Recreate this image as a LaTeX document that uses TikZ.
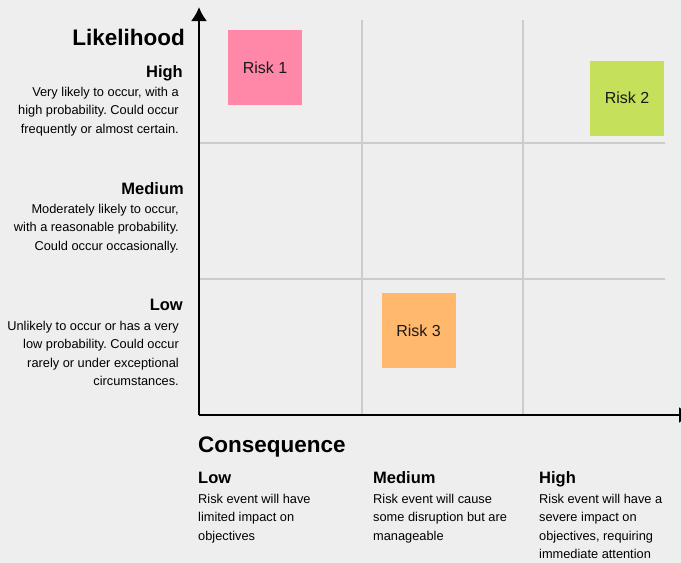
\documentclass[tikz,border=0pt]{standalone}
\usepackage{fontspec}
\setmainfont{Liberation Sans}
\usetikzlibrary{arrows.meta}
\frenchspacing
\begin{document}
\begin{tikzpicture}[x=1pt,y=-1pt,
  axis/.style={line width=2pt,-{Latex[length=14pt,width=16pt]}},
  gridline/.style={line width=1.4pt,draw=gridgrey},
  axistitle/.style={inner sep=0pt,font=\fontsize{22.5}{26}\selectfont\bfseries},
  level/.style={inner sep=0pt,font=\fontsize{16.5}{19}\selectfont\bfseries},
  desc/.style={inner sep=0pt,font=\fontsize{12.8}{18.5}\selectfont},
  riskbox/.style={minimum width=74pt,minimum height=75pt,inner sep=0pt,
    font=\fontsize{16}{19}\selectfont,text=black!90},
]
\definecolor{bg}{HTML}{EEEEEE}
\definecolor{gridgrey}{HTML}{CCCCCC}
\definecolor{riskpink}{HTML}{FF88A8}
\definecolor{riskgreen}{HTML}{C5E05A}
\definecolor{riskorange}{HTML}{FFB86C}
\useasboundingbox (0,0) rectangle (681,563);
\clip (0,0) rectangle (681,563);
\fill[bg] (0,0) rectangle (681,563);

% grid of the matrix
\coordinate (O) at (199,415);
\coordinate (ytip) at (199,7);
\coordinate (xtip) at (693,415);
\coordinate (v1t) at (362,20);  \coordinate (v1b) at (362,415);
\coordinate (v2t) at (523,20);  \coordinate (v2b) at (523,415);
\coordinate (h1l) at (199,143); \coordinate (h1r) at (665,143);
\coordinate (h2l) at (199,279); \coordinate (h2r) at (665,279);
\draw[gridline] (v1t) -- (v1b);
\draw[gridline] (v2t) -- (v2b);
\draw[gridline] (h1l) -- (h1r);
\draw[gridline] (h2l) -- (h2r);

% axes
\draw[axis] (O) -- (ytip);
\draw[axis] (O) -- (xtip);

% risks
\node[riskbox,fill=riskpink]   (risk1) at (265,67.5)  {Risk 1};
\node[riskbox,fill=riskgreen]  (risk2) at (627,98)    {Risk 2};
\node[riskbox,fill=riskorange] (risk3) at (418.5,330.5) {Risk 3};

% likelihood scale (multi-line texts are placed by the baseline of their last line)
\node[axistitle,anchor=base east] (likelihood) at (185,45) {Likelihood};
\node[level,anchor=base east] (lhigh) at (183,77) {High};
\node[desc,align=right,anchor=base east] (lhighd) at (179,133)
  {Very likely to occur, with a\\high probability. Could occur\\frequently or almost certain.};
\node[level,anchor=base east] (lmed) at (184,194) {Medium};
\node[desc,align=right,anchor=base east] (lmedd) at (179,250)
  {Moderately likely to occur,\\with a reasonable probability.\\Could occur occasionally.};
\node[level,anchor=base east] (llow) at (183,310) {Low};
\node[desc,align=right,anchor=base east] (llowd) at (179,385.5)
  {Unlikely to occur or has a very\\low probability. Could occur\\rarely or under exceptional\\circumstances.};

% consequence scale
\node[axistitle,anchor=base west] (consequence) at (198,452) {Consequence};
\node[level,anchor=base west] (clow) at (198,483) {Low};
\node[desc,align=left,anchor=base west] (clowd) at (198,540)
  {Risk event will have\\limited impact on\\objectives};
\node[level,anchor=base west] (cmed) at (373,483) {Medium};
\node[desc,align=left,anchor=base west] (cmedd) at (373,540)
  {Risk event will cause\\some disruption but are\\manageable};
\node[level,anchor=base west] (chigh) at (539,483) {High};
\node[desc,align=left,anchor=base west] (chighd) at (539,558.5)
  {Risk event will have a\\severe impact on\\objectives, requiring\\immediate attention};
\end{tikzpicture}
\end{document}
